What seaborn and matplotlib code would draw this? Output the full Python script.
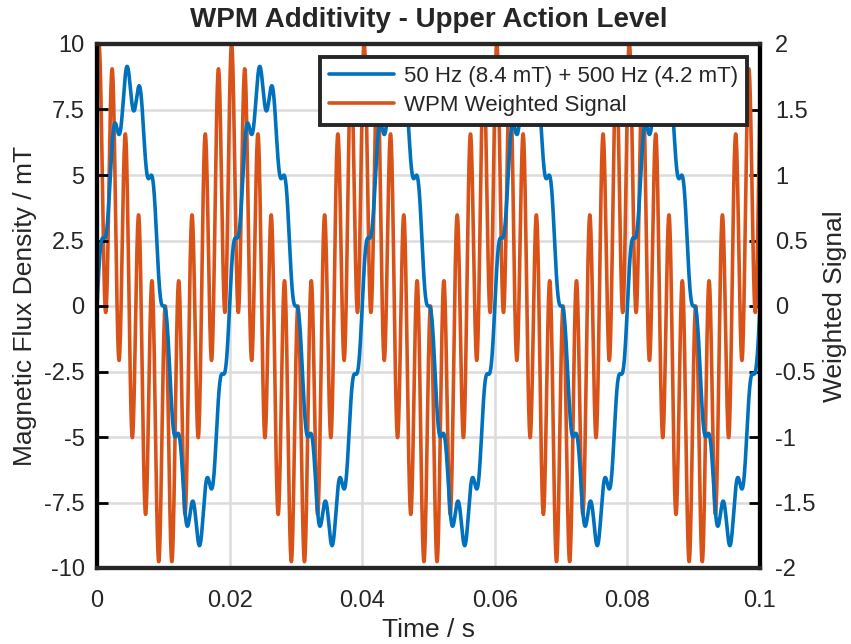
import numpy as np
import pandas as pd
import matplotlib
matplotlib.use('Agg')
import matplotlib.pyplot as plt
from matplotlib.lines import Line2D
from matplotlib.ticker import FuncFormatter
import seaborn as sns

sns.set_style('white')
plt.rcParams['font.family'] = ['Liberation Sans', 'DejaVu Sans']

#------------------------------------------------------------------
# Signal components (read off the chart / legend)
#------------------------------------------------------------------
FREQS_HZ = [50, 500]
FLUX_AMPS_MT = [8.4, 0.84]
FLUX_PHASES_DEG = [0, 0]
WEIGHTED_AMPS = [1.0, 1.0]
WEIGHTED_PHASES_DEG = [84.6, 36.0]
T_END = 0.1
N_SAMPLES = 4001

X_TICKS = [0, 0.02, 0.04, 0.06, 0.08, 0.1]
LEFT_TICKS = [-10, -7.5, -5, -2.5, 0, 2.5, 5, 7.5, 10]
RIGHT_TICKS = [-2, -1.5, -1, -0.5, 0, 0.5, 1, 1.5, 2]
LEGEND_LABELS = ['50 Hz (8.4 mT) + 500 Hz (4.2 mT)', 'WPM Weighted Signal']

BLUE = '#0072BD'
ORANGE = '#D95319'
DARK = '#262626'
TICK_FS = 17
LABEL_FS = 19
LEGEND_FS = 16
LW = 2.6

#------------------------------------------------------------------
# Build the time series from the components
#------------------------------------------------------------------
t = np.linspace(0, T_END, N_SAMPLES)


def synth(amps, phases):
    sig = np.zeros_like(t)
    for f, a, p in zip(FREQS_HZ, amps, phases):
        sig += a * np.sin(2 * np.pi * f * t + np.deg2rad(p))
    return sig


df = pd.DataFrame({'time': t,
                   'flux': synth(FLUX_AMPS_MT, FLUX_PHASES_DEG),
                   'weighted': synth(WEIGHTED_AMPS, WEIGHTED_PHASES_DEG)})

#------------------------------------------------------------------
# Plot
#------------------------------------------------------------------
fig = plt.figure(figsize=(8.51, 6.44), dpi=100)
ax2 = fig.add_axes([97 / 851, 76 / 644, 663 / 851, 524 / 644])
ax = ax2.twinx()

# orange on the right axis (drawn underneath), grid lives here too
sns.lineplot(data=df, x='time', y='weighted', ax=ax2, color=ORANGE, linewidth=LW,
             estimator=None, legend=False)
ax2.set_ylim(-2, 2)
ax2.set_xlim(0, T_END)
ax2.set_yticks(RIGHT_TICKS)
ax2.set_xticks(X_TICKS)
ax2.grid(True, color='#dcdcdc', linewidth=1.8)
ax2.yaxis.tick_right()
ax2.yaxis.set_label_position('right')
ax2.set_ylabel('Weighted Signal', fontsize=LABEL_FS, rotation=90, labelpad=5)
ax2.set_xlabel('Time / s', fontsize=LABEL_FS, labelpad=4)

# blue on the left axis, on top
sns.lineplot(data=df, x='time', y='flux', ax=ax, color=BLUE, linewidth=LW,
             estimator=None, legend=False)
ax.yaxis.tick_left()
ax.yaxis.set_label_position('left')
ax.set_ylim(-10, 10)
ax.set_xlim(0, T_END)
ax.set_yticks(LEFT_TICKS)
ax.set_ylabel('Magnetic Flux Density / mT', fontsize=LABEL_FS, labelpad=5)
ax.set_zorder(ax2.get_zorder() + 1)
ax.patch.set_visible(False)

fmt = FuncFormatter(lambda v, p: '%g' % v)
for a in (ax, ax2):
    a.yaxis.set_major_formatter(fmt)
    a.xaxis.set_major_formatter(fmt)
    a.tick_params(direction='in', length=8, width=2, labelsize=TICK_FS, color='black', pad=9)
    for side in ('top', 'bottom'):
        a.spines[side].set_color(DARK)
        a.spines[side].set_linewidth(3)
    for side in ('left', 'right'):
        a.spines[side].set_color('black')
        a.spines[side].set_linewidth(3)
ax.tick_params(axis='x', which='both', bottom=False, labelbottom=False)
ax2.tick_params(axis='x', pad=16)
ax2.tick_params(axis='y', pad=11)

ax.set_title('WPM Additivity - Upper Action Level', fontsize=20, weight='bold', pad=12)

handles = [Line2D([], [], color=BLUE, linewidth=LW), Line2D([], [], color=ORANGE, linewidth=LW)]
leg = ax.legend(handles, LEGEND_LABELS, loc='upper right', fontsize=LEGEND_FS, frameon=True,
                fancybox=False, framealpha=1, edgecolor=DARK, handlelength=2.9,
                borderaxespad=0.6, labelspacing=0.35, handletextpad=0.45, borderpad=0.4)
leg.get_frame().set_linewidth(2.8)

plt.savefig('out.png', dpi=100)
plt.close()
